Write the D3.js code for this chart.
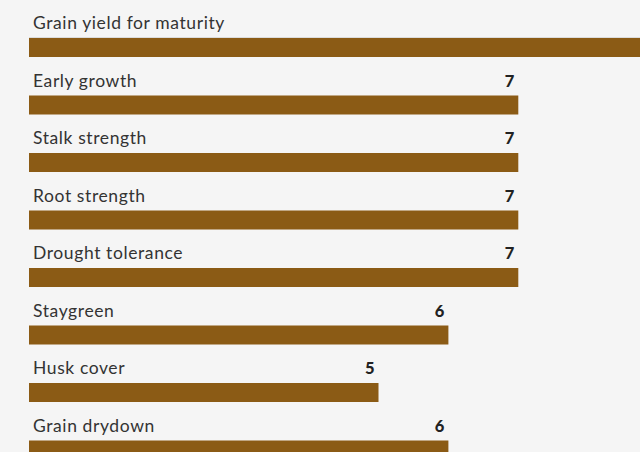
<!DOCTYPE html>
<html><head><meta charset="utf-8">
<script src="https://cdn.jsdelivr.net/npm/d3@7"></script>
<style>
html,body{margin:0;padding:0;background:#f5f5f5;}
svg{display:block;}
</style></head>
<body>
<script>
const categories = ["Grain yield for maturity","Early growth","Stalk strength","Root strength","Drought tolerance","Staygreen","Husk cover","Grain drydown"];
const values = [9,7,7,7,7,6,5,6];

const W = 640, H = 452;
const svg = d3.select("body").append("svg").attr("width", W).attr("height", H);
svg.append("rect").attr("width", W).attr("height", H).attr("fill", "#f5f5f5");

const x = d3.scaleLinear().domain([0, 9]).range([29, 658.1]);
const y = d3.scaleBand().domain(categories).range([38, 498]).paddingInner(0);
const barH = 19;

svg.append("line").attr("x1", 29).attr("x2", W).attr("y1", 37.5).attr("y2", 37.5)
  .attr("stroke", "#dcdcdc").attr("stroke-width", 1);

const g = svg.selectAll("g.row").data(categories).join("g").attr("class", "row");

g.append("rect")
  .attr("x", x(0))
  .attr("y", d => y(d))
  .attr("width", (d, i) => x(values[i]) - x(0))
  .attr("height", barH)
  .attr("fill", "#8b5b15");

g.append("text")
  .attr("x", 33)
  .attr("y", d => y(d) - 9)
  .attr("font-family", "Lato, 'Noto Sans', sans-serif")
  .attr("font-size", 17.5)
  .attr("letter-spacing", 0.6)
  .attr("fill", "#333")
  .text(d => d);

g.filter((d, i) => x(values[i]) - 4 <= W)
  .append("text")
  .attr("x", d => x(values[categories.indexOf(d)]) - 4)
  .attr("y", d => y(d) - 9)
  .attr("text-anchor", "end")
  .attr("font-family", "Lato, 'Noto Sans', sans-serif")
  .attr("font-weight", "900")
  .attr("font-size", 16.5)
  .attr("fill", "#222")
  .text(d => values[categories.indexOf(d)]);
</script>
</body></html>
